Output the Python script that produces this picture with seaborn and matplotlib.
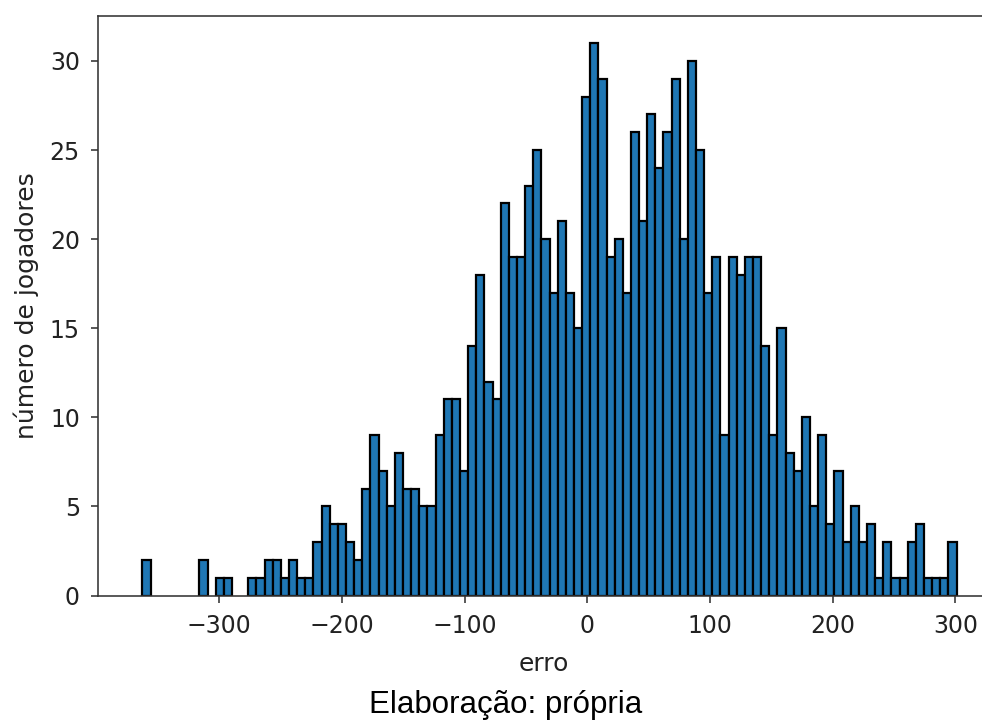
import numpy as np
import matplotlib
matplotlib.use("Agg")
import matplotlib.pyplot as plt
import seaborn as sns

# histogram counts per bin (100 bins)
counts = [2, 0, 0, 0, 0, 0, 0, 2, 0, 1,
          1, 0, 0, 1, 1, 2, 2, 1, 2, 1,
          1, 3, 5, 4, 4, 3, 2, 6, 9, 7,
          5, 8, 6, 6, 5, 5, 9, 11, 11, 7,
          14, 18, 12, 11, 22, 19, 19, 23, 25, 20,
          17, 21, 17, 15, 28, 31, 29, 19, 20, 17,
          26, 21, 27, 24, 26, 29, 20, 30, 25, 17,
          19, 9, 19, 18, 19, 19, 14, 9, 15, 8,
          7, 10, 5, 9, 4, 7, 3, 5, 3, 4,
          1, 3, 1, 1, 3, 4, 1, 1, 1, 3]
bin_low = -362.6
bin_high = 301.0
n_bins = len(counts)
xticks = [-300, -200, -100, 0, 100, 200, 300]
yticks = [0, 5, 10, 15, 20, 25, 30]
xlabel = "erro"
ylabel = "número de jogadores"
caption = "Elaboração: própria"

width = (bin_high - bin_low) / n_bins
centers = [bin_low + (k + 0.5) * width for k in range(n_bins)]

fig = plt.figure(figsize=(9.82, 7.22), dpi=100)
W, H = 982, 722
ax_left_px, ax_right_px = 98, 990
ax_top_px, ax_bot_px = 15.5, 595.5
ax = fig.add_axes([ax_left_px / W, (H - ax_bot_px) / H,
                   (ax_right_px - ax_left_px) / W, (ax_bot_px - ax_top_px) / H])

sns.histplot(x=centers, weights=counts, bins=n_bins, binrange=(bin_low, bin_high),
             color="#1f77b4", edgecolor="black", linewidth=1.6, alpha=1.0, ax=ax)
for p in ax.patches:
    if p.get_height() == 0:
        p.set_linewidth(0)

px_per_unit = 1.2267
zero_px = 587.3
ax.set_xlim((ax_left_px - zero_px) / px_per_unit, (ax_right_px - zero_px) / px_per_unit)
ax.set_ylim(0, 32.55)
ax.set_xticks(xticks)
ax.set_yticks(yticks)

tfs = 17
lfs = 18
ax.tick_params(axis="both", labelsize=tfs, length=5, width=1.15, color="#333333",
               labelcolor="#222222")
ax.tick_params(axis="x", pad=8.6)
ax.tick_params(axis="y", pad=8)
for sp in ax.spines.values():
    sp.set_linewidth(1.15)
    sp.set_color("#333333")
ax.set_xlabel(xlabel, fontsize=lfs, labelpad=10, color="#222222")
ax.set_ylabel(ylabel, fontsize=lfs, labelpad=8, color="#222222")

fig.text(506 / W, (H - 705) / H, caption, ha="center", va="center",
         fontsize=22.5, family=["Liberation Sans", "DejaVu Sans"])

fig.savefig("out.png", dpi=100)
